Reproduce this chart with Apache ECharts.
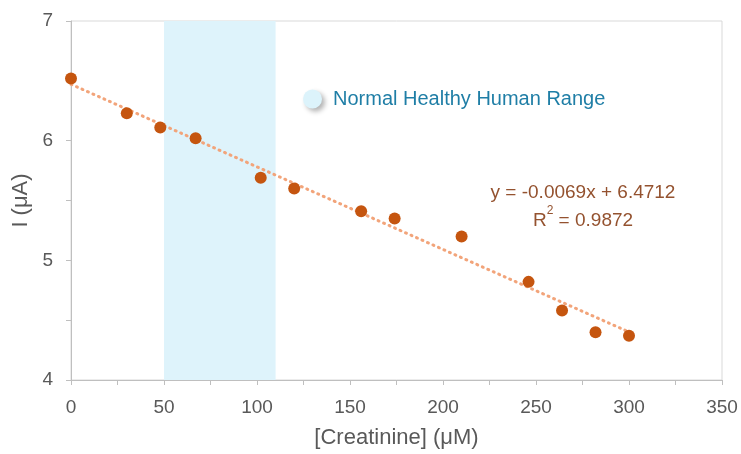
<!DOCTYPE html>
<html>
<head>
<meta charset="utf-8">
<script src="https://cdn.jsdelivr.net/npm/echarts@6/dist/echarts.min.js"></script>
<style>html,body{margin:0;padding:0;background:#fff}#c{width:741px;height:454px}</style>
</head>
<body>
<div id="c"></div>
<script>
// Measured data
const creatinine = [0, 30, 48, 67, 102, 120, 156, 174, 210, 246, 264, 282, 300];
const current = [6.52, 6.23, 6.11, 6.02, 5.69, 5.60, 5.41, 5.35, 5.20, 4.82, 4.58, 4.40, 4.37];
// Linear fit shown on chart
const fitSlope = -0.0069;
const fitIntercept = 6.4712;
const fitRange = [0, 300];
const rSquared = 0.9872;
// Normal healthy range
const normalRange = [50, 110];
const xTicks = {min: 0, max: 350, interval: 50};
const yTicks = {min: 4, max: 7, interval: 1};

const fitLine = fitRange.map(x => [x, fitIntercept + fitSlope * x]);
const font = "'Liberation Sans', Arial, sans-serif";

const chart = echarts.init(document.getElementById('c'), null, {renderer: 'canvas'});
chart.setOption({
  animation: false,
  backgroundColor: '#fff',
  grid: {left: 71, right: 19, top: 21, bottom: 69, show: true, borderColor: '#d9d9d9', borderWidth: 1},
  legend: {
    left: 298, top: 84,
    itemWidth: 19, itemHeight: 19, itemGap: 10,
    data: [{name: 'Normal Healthy Human Range', icon: 'circle'}],
    textStyle: {color: '#1f7ea6', fontSize: 20, fontFamily: font, padding: [0, 0, 0, 6]},
    itemStyle: {color: '#dcf3fb', shadowColor: 'rgba(0,0,0,0.3)', shadowBlur: 5, shadowOffsetX: 3, shadowOffsetY: 3}
  },
  xAxis: {
    type: 'value', min: xTicks.min, max: xTicks.max, interval: xTicks.interval,
    name: '[Creatinine] (μM)', nameLocation: 'middle', nameGap: 47,
    nameTextStyle: {color: '#595959', fontSize: 22, fontFamily: font},
    axisLine: {show: true, lineStyle: {color: '#bfbfbf', width: 1}},
    axisTick: {show: true, length: 5, lineStyle: {color: '#bfbfbf'}},
    minorTick: {show: true, splitNumber: 2, length: 5, lineStyle: {color: '#bfbfbf'}},
    splitLine: {show: false},
    axisLabel: {color: '#595959', fontSize: 19, fontFamily: font, margin: 18}
  },
  yAxis: {
    type: 'value', min: yTicks.min, max: yTicks.max, interval: yTicks.interval,
    name: 'I (μA)', nameLocation: 'middle', nameGap: 39, nameRotate: 90,
    nameTextStyle: {color: '#595959', fontSize: 22, fontFamily: font},
    axisLine: {show: true, lineStyle: {color: '#bfbfbf', width: 1}},
    axisTick: {show: true, length: 5, lineStyle: {color: '#bfbfbf'}},
    minorTick: {show: true, splitNumber: 2, length: 5, lineStyle: {color: '#bfbfbf'}},
    splitLine: {show: false},
    axisLabel: {color: '#595959', fontSize: 19, fontFamily: font, margin: 18}
  },
  series: [
    {
      name: 'Normal Healthy Human Range',
      type: 'line', data: [], symbol: 'circle',
      itemStyle: {color: '#dcf3fb'},
      markArea: {
        silent: true,
        itemStyle: {color: '#def3fb'},
        data: [[{xAxis: normalRange[0]}, {xAxis: normalRange[1]}]]
      }
    },
    {
      name: 'Fit', type: 'line', data: fitLine, symbol: 'none',
      lineStyle: {color: '#f2a47a', width: 3, type: [1, 5], cap: 'round'},
      z: 3
    },
    {
      name: 'Data', type: 'scatter', data: creatinine.map((x, i) => [x, current[i]]),
      symbol: 'circle', symbolSize: 12,
      itemStyle: {color: '#c5550f', opacity: 1},
      z: 4
    }
  ],
  graphic: [{
    type: 'text', x: 583, y: 180,
    style: {
      text: 'y = ' + fitSlope.toFixed(4) + 'x + ' + fitIntercept.toFixed(4) + '\n{n|R}{s|2}{n| = ' + rSquared.toFixed(4) + '}',
      align: 'center', fill: '#94522f', fontSize: 19, fontFamily: font, lineHeight: 25,
      rich: {
        n: {fontSize: 19, fill: '#94522f', fontFamily: font, verticalAlign: 'bottom'},
        s: {fontSize: 12, fill: '#94522f', fontFamily: font, verticalAlign: 'top', padding: [0, 0, 8, 0]}
      }
    }
  }]
});
</script>
</body>
</html>
